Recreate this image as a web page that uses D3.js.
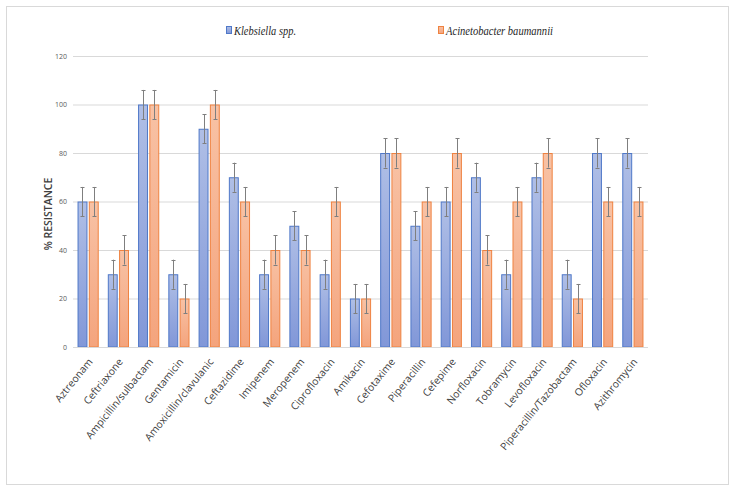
<!DOCTYPE html>
<html><head><meta charset="utf-8">
<script src="https://cdn.jsdelivr.net/npm/d3@7"></script>
<style>body{margin:0;background:#fff}svg{display:block}
.ax{font-family:"Open Sans","Noto Sans",sans-serif}</style>
</head><body>
<svg id="c" width="737" height="494"></svg>
<script>
const categories = ["Aztreonam","Ceftriaxone","Ampicillin/sulbactam","Gentamicin","Amoxicillin/clavulanic","Ceftazidime","Imipenem","Meropenem","Ciprofloxacin","Amikacin","Cefotaxime","Piperacillin","Cefepime","Norfloxacin","Tobramycin","Levofloxacin","Piperacillin/Tazobactam","Ofloxacin","Azithromycin"];
const seriesNames = ["Klebsiella spp.","Acinetobacter baumannii"];
const klebsiella = [60,30,100,30,90,70,30,50,30,20,80,50,60,70,30,70,30,80,80];
const acinetobacter = [60,40,100,20,100,60,40,40,60,20,80,60,80,40,60,80,20,60,60];
const errorMargin = [6,6];
const yTicks = [0,20,40,60,80,100,120];

const svg = d3.select("#c");
const defs = svg.append("defs");
const pal = [
  {id:"gb", top:"#b0bfe6", bot:"#8197d8", stroke:"#4f78c8"},
  {id:"go", top:"#f8c2a5", bot:"#f4a47d", stroke:"#ef8240"}
];
pal.forEach(p=>{
  const g = defs.append("linearGradient").attr("id",p.id).attr("x1",0).attr("y1",0).attr("x2",0).attr("y2",1);
  g.append("stop").attr("offset","0%").attr("stop-color",p.top);
  g.append("stop").attr("offset","100%").attr("stop-color",p.bot);
});

// frame
svg.append("rect").attr("x",6.5).attr("y",6.5).attr("width",722).attr("height",478)
  .attr("fill","none").attr("stroke","#d9d9d9").attr("stroke-width",1);

const pLeft=73, pRight=648, pTop=56, pBottom=347;
const x = d3.scaleBand().domain(categories).range([pLeft,pRight]).paddingInner(0.3).paddingOuter(0.15);
const xs = d3.scaleBand().domain([0,1]).range([0,x.bandwidth()]).paddingInner(0.12);
const y = d3.scaleLinear().domain([0,120]).range([pBottom,pTop]);

// gridlines
svg.append("g").selectAll("line").data(yTicks.filter(t=>t>0)).join("line")
  .attr("x1",pLeft).attr("x2",pRight).attr("y1",d=>y(d)+0.5).attr("y2",d=>y(d)+0.5)
  .attr("stroke","#d9d9d9").attr("stroke-width",1);

// y tick labels
svg.append("g").selectAll("text").data(yTicks).join("text")
  .attr("class","ax")
  .attr("x",67).attr("y",d=>y(d)+2.5).attr("text-anchor","end")
  .attr("font-size",7).attr("fill","#595959")
  .text(d=>d);

// bars
const series = [klebsiella, acinetobacter];
series.forEach((vals,si)=>{
  const g = svg.append("g");
  g.selectAll("rect").data(vals).join("rect")
    .attr("x",(d,i)=>x(categories[i])+xs(si)+0.5)
    .attr("y",d=>y(d)+0.5)
    .attr("width",xs.bandwidth()-1)
    .attr("height",d=>y(0)-y(d)-0.5)
    .attr("fill",`url(#${pal[si].id})`)
    .attr("stroke",pal[si].stroke).attr("stroke-width",1);
});

// x axis line
svg.append("line").attr("x1",pLeft).attr("x2",pRight).attr("y1",pBottom+0.5).attr("y2",pBottom+0.5)
  .attr("stroke","#d9d9d9").attr("stroke-width",1);

// error bars
series.forEach((vals,si)=>{
  const g = svg.append("g").attr("stroke","#7f7f7f").attr("stroke-width",1);
  vals.forEach((d,i)=>{
    const cx = Math.round(x(categories[i])+xs(si)+xs.bandwidth()/2)+0.5;
    const e = errorMargin[si];
    g.append("line").attr("x1",cx).attr("x2",cx).attr("y1",y(d+e)).attr("y2",y(d-e));
    g.append("line").attr("x1",cx-2).attr("x2",cx+2).attr("y1",Math.round(y(d+e))+0.5).attr("y2",Math.round(y(d+e))+0.5);
    g.append("line").attr("x1",cx-2).attr("x2",cx+2).attr("y1",Math.round(y(d-e))+0.5).attr("y2",Math.round(y(d-e))+0.5);
  });
});

// x labels
svg.append("g").selectAll("text").data(categories).join("text")
  .attr("class","ax")
  .attr("transform",d=>`translate(${x(d)+x.bandwidth()/2+5},${pBottom+15}) rotate(-51)`)
  .attr("text-anchor","end")
  .attr("font-size",10.3).attr("fill","#404040")
  .text(d=>d);

// y axis title
svg.append("text").attr("class","ax").attr("transform",`translate(52,214) rotate(-90)`)
  .attr("text-anchor","middle")
  .attr("font-size",10.5).attr("font-weight","600").attr("fill","#404040")
  .text("% RESISTANCE");

// legend
const legend = [{x:226,w:62,name:seriesNames[0]},{x:438,w:107,name:seriesNames[1]}];
legend.forEach((l,i)=>{
  svg.append("rect").attr("x",l.x+0.5).attr("y",26.5).attr("width",5).attr("height",7)
    .attr("fill",`url(#${pal[i].id})`).attr("stroke",pal[i].stroke).attr("stroke-width",1);
  svg.append("text").attr("x",l.x+8).attr("y",34.5)
    .attr("style","font-family:'Liberation Serif','DejaVu Serif',serif;font-style:italic;font-size:12.5px")
    .attr("textLength",l.w).attr("lengthAdjust","spacingAndGlyphs")
    .attr("fill","#262626").text(l.name);
});
</script>
</body></html>
